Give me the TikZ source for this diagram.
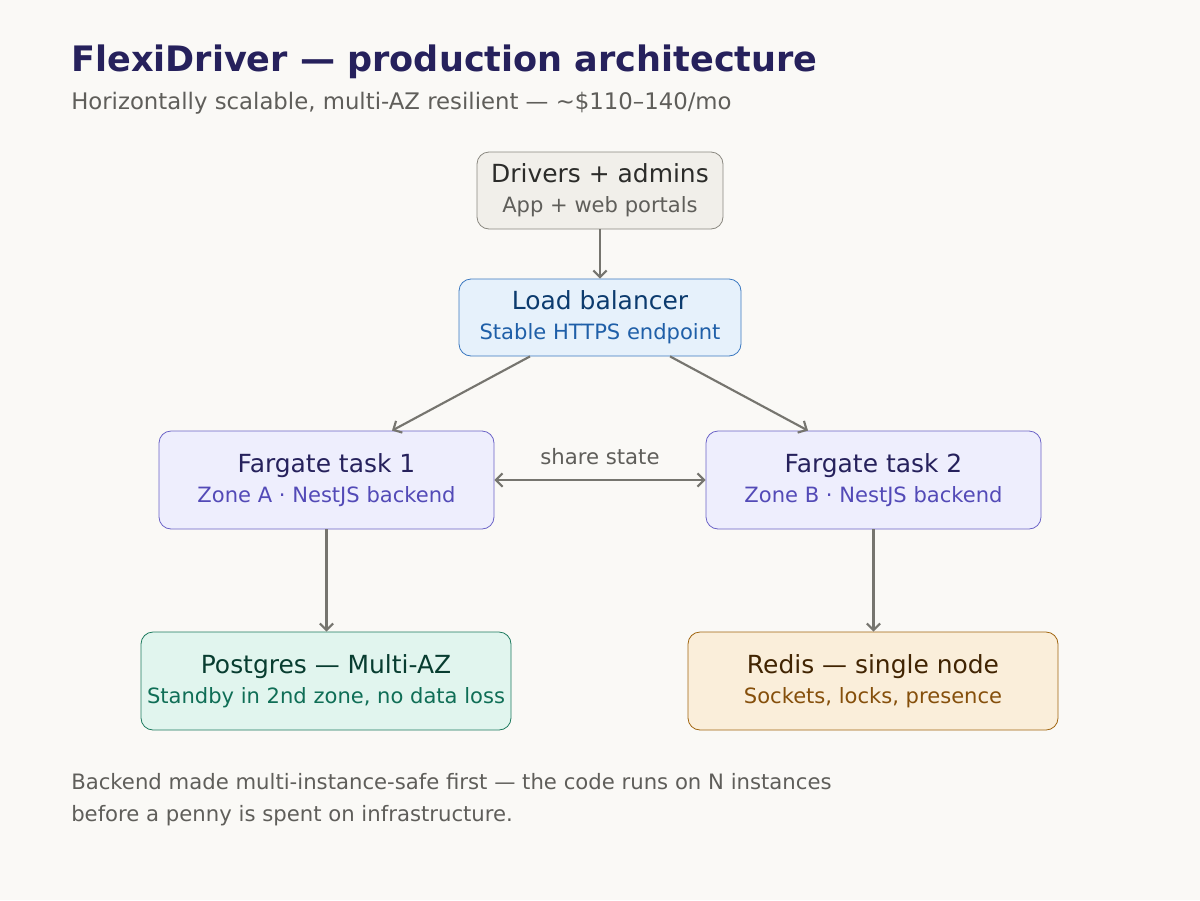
\documentclass[tikz,border=0pt]{standalone}
\usepackage{fontspec}
\setmainfont{DejaVu Sans}
\usetikzlibrary{arrows.meta}
\definecolor{bg}{HTML}{FAF9F6}
\definecolor{ttl}{HTML}{26215C}
\definecolor{gry}{HTML}{5F5E5A}
\definecolor{arr}{HTML}{76756F}
\definecolor{gfill}{HTML}{F1EFEA}\definecolor{gline}{HTML}{8A8880}\definecolor{gt}{HTML}{2C2C2A}
\definecolor{bfill}{HTML}{E6F1FB}\definecolor{bline}{HTML}{3A78C0}\definecolor{bt}{HTML}{0C3B6E}\definecolor{bs}{HTML}{1F5FA8}
\definecolor{pfill}{HTML}{EEEEFD}\definecolor{pline}{HTML}{6B63C7}\definecolor{pt}{HTML}{26215C}\definecolor{ps}{HTML}{534AB7}
\definecolor{tfill}{HTML}{E1F5EE}\definecolor{tline}{HTML}{1D7A5E}\definecolor{tt}{HTML}{083D30}\definecolor{ts}{HTML}{0F6E56}
\definecolor{ofill}{HTML}{FAEEDA}\definecolor{oline}{HTML}{A0650F}\definecolor{ot}{HTML}{412402}\definecolor{os}{HTML}{854F0B}
\newcommand{\boxtxt}[4]{{\fontsize{18.7}{22}\selectfont\color{#1}#3}\\{\color{#2}#4}}
\tikzset{
  card/.style={draw, rounded corners=9pt, line width=0.6pt, align=center, inner sep=0pt, font=\fontsize{15.8}{22.5}\selectfont},
  tip/.style={Straight Barb[length=6pt,width=10pt,line width=1.4pt]},
  conn/.style={draw=arr, line width=1.6pt, -{Straight Barb[length=5pt,width=10pt]}},
}
\begin{document}
\begin{tikzpicture}[x=0.75pt,y=-0.75pt]
\fill[bg] (0,0) rectangle (1200,900);
\useasboundingbox (0,0) rectangle (1200,900);
\node[anchor=base west, font=\bfseries\fontsize{26.3}{30}\selectfont, text=ttl, inner sep=0] (title) at (71,71) {FlexiDriver — production architecture};
\node[anchor=base west, font=\fontsize{17.1}{20}\selectfont, text=gry, inner sep=0] (sub) at (71,109) {Horizontally scalable, multi-AZ resilient — \textasciitilde\$110–140/mo};
\node[card, fill=gfill, draw=gline, minimum width=184.5pt, minimum height=57.75pt] (drv) at (600,190.5) {\boxtxt{gt}{gry}{Drivers + admins}{App + web portals}};
\node[card, fill=bfill, draw=bline, minimum width=211.5pt, minimum height=57.75pt] (lb) at (600,317.5) {\boxtxt{bt}{bs}{Load balancer}{Stable HTTPS endpoint}};
\node[card, fill=pfill, draw=pline, minimum width=251.25pt, minimum height=73.5pt] (f1) at (326.5,480) {\boxtxt{pt}{ps}{Fargate task 1}{Zone A · NestJS backend}};
\node[card, fill=pfill, draw=pline, minimum width=251.25pt, minimum height=73.5pt] (f2) at (873.5,480) {\boxtxt{pt}{ps}{Fargate task 2}{Zone B · NestJS backend}};
\node[card, fill=tfill, draw=tline, minimum width=277.5pt, minimum height=73.5pt] (pg) at (326,681) {\boxtxt{tt}{ts}{Postgres — Multi-AZ}{Standby in 2nd zone, no data loss}};
\node[card, fill=ofill, draw=oline, minimum width=277.5pt, minimum height=73.5pt] (rd) at (873,681) {\boxtxt{ot}{os}{Redis — single node}{Sockets, locks, presence}};
\draw[conn] (drv.south) -- (lb.north);
\draw[conn] (lb.south -| 530,0) -- (f1.north -| 392,0);
\draw[conn] (lb.south -| 670,0) -- (f2.north -| 808,0);
\draw[conn, {Straight Barb[length=5pt,width=10pt]}-{Straight Barb[length=5pt,width=10pt]}] (f1.east) -- node[above=7pt, text=gry, font=\fontsize{15.9}{17}\selectfont] {share state} (f2.west);
\draw[conn] (f1.south) -- (pg.north -| f1.south);
\draw[conn] (f2.south) -- (rd.north -| f2.south);
\node[anchor=north west, align=left, font=\fontsize{15.9}{24}\selectfont, text=gry, inner sep=0] (foot) at (71,773) {Backend made multi-instance-safe first — the code runs on N instances\\before a penny is spent on infrastructure.};
\end{tikzpicture}
\end{document}
